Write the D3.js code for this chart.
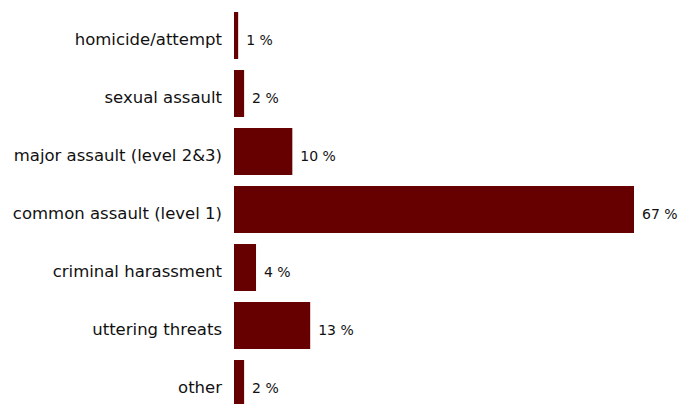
<!DOCTYPE html>
<html>
<head>
<meta charset="utf-8">
<script src="https://cdn.jsdelivr.net/npm/d3@7"></script>
<style>
  body { margin: 0; background: #fff; }
  text { font-family: "DejaVu Sans", Verdana, sans-serif; fill: #111; }
</style>
</head>
<body>
<svg id="chart"></svg>
<script>
// offence categories and share of incidents (%)
const categories = [
    "homicide/attempt",
    "sexual assault",
    "major assault (level 2&3)",
    "common assault (level 1)",
    "criminal harassment",
    "uttering threats",
    "other"
];
const values = [0.7, 1.7, 9.8, 67.2, 3.7, 12.8, 1.7];
const valueLabels = ["1 %", "2 %", "10 %", "67 %", "4 %", "13 %", "2 %"];

const width = 678, height = 404;
const margin = { top: 6.5, left: 234 };

const svg = d3.select("#chart")
    .attr("width", width)
    .attr("height", height);

const x = d3.scaleLinear()
    .domain([0, 67.2])
    .range([0, 400]);

const y = d3.scaleBand()
    .domain(categories)
    .range([margin.top, margin.top + 58 * 7])
    .paddingInner(0.19)
    .paddingOuter(0.095);

const rows = categories.map((c, i) => ({ cat: c, v: values[i], label: valueLabels[i] }));

const chart = svg.append("g")
    .attr("transform", `translate(${margin.left},0)`);

chart.selectAll(".bar")
    .data(rows)
    .join("rect")
    .attr("class", "bar")
    .attr("x", 0)
    .attr("y", d => y(d.cat))
    .attr("width", d => x(d.v))
    .attr("height", y.bandwidth())
    .attr("fill", "#660000");

// category names, right aligned left of the bars
chart.selectAll(".cat-label")
    .data(rows)
    .join("text")
    .attr("class", "cat-label")
    .attr("x", -12)
    .attr("y", d => y(d.cat) + y.bandwidth() / 2 + 9)
    .attr("text-anchor", "end")
    .attr("font-size", "16.5px")
    .text(d => d.cat);

// percentages after each bar
chart.selectAll(".val-label")
    .data(rows)
    .join("text")
    .attr("class", "val-label")
    .attr("x", d => x(d.v) + 8)
    .attr("y", d => y(d.cat) + y.bandwidth() / 2 + 9)
    .attr("font-size", "14px")
    .text(d => d.label);
</script>
</body>
</html>
